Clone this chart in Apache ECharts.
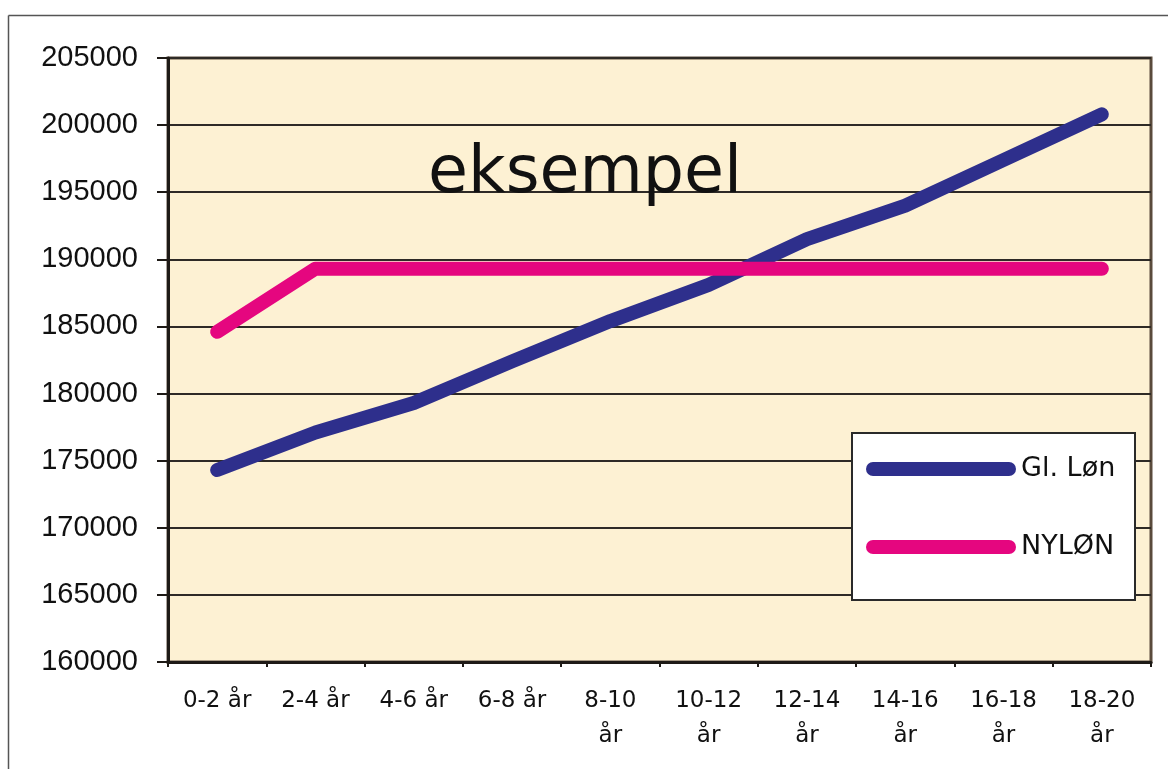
<!DOCTYPE html>
<html>
<head>
<meta charset="utf-8">
<script src="https://cdn.jsdelivr.net/npm/echarts@6/dist/echarts.min.js"></script>
<style>
html,body{margin:0;padding:0;background:#fff;}
#main{width:1168px;height:769px;}
</style>
</head>
<body>
<div id="main"></div>
<script>
const categories = ['0-2 år','2-4 år','4-6 år','6-8 år','8-10 år','10-12 år','12-14 år','14-16 år','16-18 år','18-20 år'];
const glLon = [174300, 177100, 179300, 182400, 185400, 188100, 191500, 194000, 197400, 200800];
const nyLon = [184600, 189300, 189300, 189300, 189300, 189300, 189300, 189300, 189300, 189300];
const seriesNames = ['Gl. Løn', 'NYLØN'];
const chartTitle = 'eksempel';
const yMin = 160000, yMax = 205000, yStep = 5000;

const chart = echarts.init(document.getElementById('main'));
const stadium = 'path://M7,0L143,0A7,7,0,0,1,143,14L7,14A7,7,0,0,1,7,0Z';
chart.setOption({
  animation: false,
  backgroundColor: '#ffffff',
  title: {
    text: chartTitle,
    left: 428, top: 143, padding: 0,
    textStyle: {fontFamily: 'DejaVu Sans', fontSize: 65, fontWeight: 'normal', color: '#111', lineHeight: 65}
  },
  grid: {
    left: 168, top: 58, right: 17, bottom: 107,
    show: true, backgroundColor: '#FDF1D3', borderColor: '#5a4b3c', borderWidth: 3
  },
  legend: {
    orient: 'vertical', left: 866, top: 454, padding: 0, itemGap: 48,
    itemWidth: 150, itemHeight: 14, icon: stadium, z: 10,
    itemStyle: {borderWidth: 0},
    textStyle: {fontFamily: 'DejaVu Sans', fontSize: 27, color: '#111', lineHeight: 30, padding: [0,0,0,0]},
    data: seriesNames
  },
  xAxis: {
    type: 'category', data: categories, boundaryGap: true,
    axisLine: {lineStyle: {color: '#1e1a16', width: 3}},
    axisTick: {show: true, length: 5, lineStyle: {color: '#1e1a16', width: 2}},
    axisLabel: {
      interval: 0, margin: 22, color: '#111', fontFamily: 'DejaVu Sans', fontSize: 23, lineHeight: 35,
      formatter: function (v, i) { return i >= 4 ? v.replace(' år', '\når') : v; }
    }
  },
  yAxis: {
    type: 'value', min: yMin, max: yMax, interval: yStep,
    axisLine: {show: true, lineStyle: {color: '#1e1a16', width: 3}},
    axisTick: {show: true, length: 11, lineStyle: {color: '#1e1a16', width: 2}},
    axisLabel: {margin: 30, color: '#111', fontFamily: 'Liberation Sans', fontSize: 29,
      formatter: function (v) { return String(v); }},
    splitLine: {show: true, lineStyle: {color: '#2e2a26', width: 2}}
  },
  graphic: [
    {type: 'line', z: 1, shape: {x1: 8.5, y1: 15.5, x2: 1168, y2: 15.5}, style: {stroke: '#555', lineWidth: 1.5}},
    {type: 'line', z: 1, shape: {x1: 8.5, y1: 15.5, x2: 8.5, y2: 769}, style: {stroke: '#555', lineWidth: 1.5}},
    {type: 'rect', z: 5, shape: {x: 852, y: 433, width: 283, height: 167}, style: {fill: '#ffffff', stroke: '#2a2a2a', lineWidth: 2}}
  ],
  series: [
    {
      name: seriesNames[0], type: 'line', data: glLon, symbol: 'none', smooth: false, z: 3,
      color: '#2E2F8C',
      lineStyle: {width: 14, cap: 'round', join: 'round', color: '#2E2F8C'}
    },
    {
      name: seriesNames[1], type: 'line', data: nyLon, symbol: 'none', smooth: false, z: 4,
      color: '#E5067F',
      lineStyle: {width: 14, cap: 'round', join: 'round', color: '#E5067F'}
    }
  ]
});
</script>
</body>
</html>
